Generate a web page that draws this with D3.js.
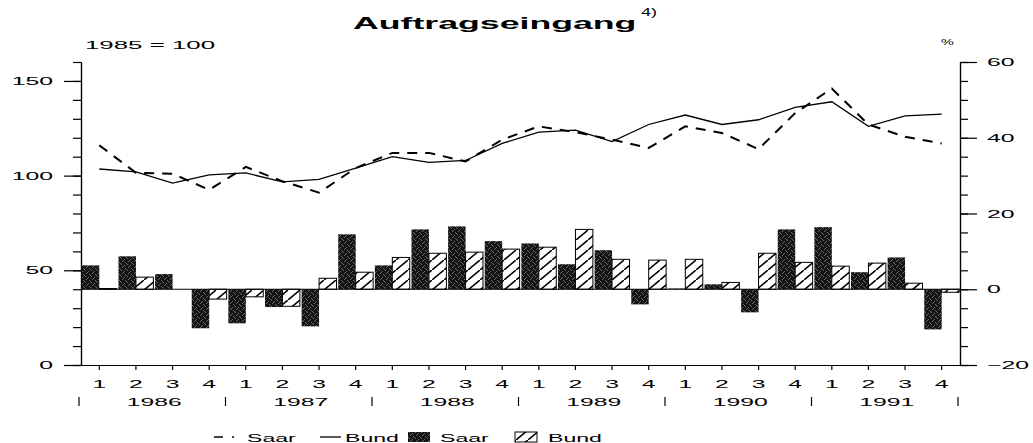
<!DOCTYPE html>
<meta charset="utf-8">
<script src="https://d3js.org/d3.v7.min.js"></script>
<style>
  body { margin: 0; background: #fff; }
  text { font-family: "Liberation Sans", Arial, sans-serif; fill: #000; }
</style>
<div id="chart"></div>
<script>

// years and quarters of the x axis
var years = ["1986", "1987", "1988", "1989", "1990", "1991"];
var quarterLabels = ["1", "2", "3", "4"];

// index lines, 1985 = 100 (left axis)
var saarIndex = [116, 101.5, 101, 92.5, 104.6, 97, 91, 104, 112, 112, 107.5, 119,
                 126, 123, 119, 114.6, 126, 122.5, 114, 133, 146, 127, 120.5, 117];
var bundIndex = [103.5, 102, 96, 100.4, 101.4, 96.7, 98, 104, 110, 107, 108, 117,
                 123, 124, 118, 127, 132, 127, 129.5, 136, 139, 126, 131.5, 132.5];

// change in % (right axis, bars)
var saarChange = [6.3, 8.7, 4, -10.3, -9, -4.7, -9.8, 14.5, 6.3, 15.8, 16.6, 12.7,
                  12.1, 6.6, 10.3, -4, 0.2, 1.3, -6.1, 15.8, 16.4, 4.5, 8.4, -10.6];
var bundChange = [0.2, 3.2, 0, -2.6, -2, -4.5, 2.9, 4.5, 8.4, 9.5, 9.8, 10.6,
                  11.1, 15.8, 7.9, 7.7, 7.9, 1.8, 9.5, 7.1, 6.1, 6.9, 1.6, -0.8];

var periods = [];
years.forEach(function(y) { quarterLabels.forEach(function(q) { periods.push(y + " " + q); }); });

var width = 1033, height = 443;
var SX = 2.25; // the original type is a very wide grotesque

var svg = d3.select("#chart").append("svg")
  .attr("width", width)
  .attr("height", height);

// patterns for the bars
var defs = svg.append("defs");
var grain = defs.append("pattern").attr("id", "grain")
  .attr("patternUnits", "userSpaceOnUse").attr("width", 6).attr("height", 6);
grain.append("rect").attr("width", 6).attr("height", 6).attr("fill", "#151515");
[[1, 0], [4, 1], [2, 3], [5, 4], [0, 5], [3, 2]].forEach(function(p) {
  grain.append("rect").attr("x", p[0]).attr("y", p[1]).attr("width", 1).attr("height", 1).attr("fill", "#6a6a6a");
});
var hatch = defs.append("pattern").attr("id", "hatch")
  .attr("patternUnits", "userSpaceOnUse").attr("width", 12).attr("height", 10);
hatch.append("rect").attr("width", 12).attr("height", 10).attr("fill", "#fff");
hatch.append("path").attr("d", "M0,10 L12,0")
  .attr("stroke", "#000").attr("stroke-width", 1.6).attr("stroke-linecap", "square");

// scales
var x = d3.scaleBand().domain(periods).range([81, 960]).padding(0);
var xs = d3.scaleBand().domain(["Saar", "Bund"]).range([0, x.bandwidth()]).paddingOuter(0.05);
var yL = d3.scaleLinear().domain([0, 160]).range([365, 62]);
var yR = d3.scaleLinear().domain([-20, 60]).range([365, 62]);

function widen(sel, sx) {
  sel.each(function() {
    var t = d3.select(this);
    var x0 = +t.attr("x") || 0;
    t.attr("x", x0 / sx).attr("transform", "scale(" + sx + ",1)");
  });
}

function label(px, py, str, size, anchor, sx, weight) {
  return svg.append("text")
    .attr("transform", "translate(" + px + "," + py + ") scale(" + sx + ",1)")
    .attr("text-anchor", anchor)
    .style("font-size", size + "px")
    .style("font-weight", weight || "normal")
    .text(str);
}

function styleAxis(g) {
  g.selectAll("path, line").attr("stroke", "#000").attr("stroke-width", 1.2);
  g.selectAll("text").style("font-size", "11px").attr("fill", "#000");
}

// left axis: minor + major ticks
svg.append("g").attr("transform", "translate(81,0)")
  .call(d3.axisLeft(yL).tickValues(d3.range(0, 161, 10)).tickSize(8).tickSizeOuter(0).tickFormat(""))
  .call(styleAxis);
var gL = svg.append("g").attr("transform", "translate(81,0)")
  .call(d3.axisLeft(yL).tickValues([0, 50, 100, 150]).tickSize(17).tickSizeOuter(0).tickPadding(11))
  .call(styleAxis);
widen(gL.selectAll("text"), SX);

// right axis
svg.append("g").attr("transform", "translate(960,0)")
  .call(d3.axisRight(yR).tickValues(d3.range(-20, 61, 5)).tickSize(8).tickSizeOuter(0).tickFormat(""))
  .call(styleAxis);
var gR = svg.append("g").attr("transform", "translate(960,0)")
  .call(d3.axisRight(yR).tickValues([-20, 0, 20, 40, 60]).tickSize(17).tickSizeOuter(0).tickPadding(10))
  .call(styleAxis);
widen(gR.selectAll("text"), SX);

// bottom axis with quarter numbers
var gB = svg.append("g").attr("transform", "translate(0,365)")
  .call(d3.axisBottom(x).tickSize(5).tickSizeOuter(0).tickPadding(10)
    .tickFormat(function(d) { return d.split(" ")[1]; }))
  .call(styleAxis);
widen(gB.selectAll("text"), SX);

// year labels and separators
years.forEach(function(y, i) {
  var x0 = x(y + " 1");
  label(x0 + 2 * x.bandwidth(), 406, y, 11, "middle", SX);
  svg.append("line").attr("x1", x0 - 2).attr("x2", x0 - 2).attr("y1", 397).attr("y2", 406)
    .attr("stroke", "#000").attr("stroke-width", 1.2);
});
svg.append("line").attr("x1", x.range()[1] - 2).attr("x2", x.range()[1] - 2).attr("y1", 397).attr("y2", 406)
  .attr("stroke", "#000").attr("stroke-width", 1.2);

// bars
var barData = periods.map(function(p, i) { return {p: p, saar: saarChange[i], bund: bundChange[i]}; });
svg.selectAll(".saar").data(barData).enter().append("rect")
  .attr("class", "saar")
  .attr("x", function(d) { return x(d.p) + xs("Saar"); })
  .attr("y", function(d) { return yR(Math.max(0, d.saar)); })
  .attr("width", xs.bandwidth())
  .attr("height", function(d) { return Math.abs(yR(d.saar) - yR(0)); })
  .attr("fill", "url(#grain)");
svg.selectAll(".bund").data(barData).enter().append("rect")
  .attr("class", "bund")
  .attr("x", function(d) { return x(d.p) + xs("Bund"); })
  .attr("y", function(d) { return yR(Math.max(0, d.bund)); })
  .attr("width", xs.bandwidth())
  .attr("height", function(d) { return Math.abs(yR(d.bund) - yR(0)); })
  .attr("fill", "url(#hatch)")
  .attr("stroke", "#000")
  .attr("stroke-width", 1);

// zero line of the bars
svg.append("line")
  .attr("x1", x.range()[0]).attr("x2", x.range()[1])
  .attr("y1", yR(0)).attr("y2", yR(0))
  .attr("stroke", "#000").attr("stroke-width", 1.2);

// index lines
var line = d3.line()
  .x(function(d) { return x(d.p) + x.bandwidth() / 2; })
  .y(function(d) { return yL(d.v); });
svg.append("path")
  .datum(periods.map(function(p, i) { return {p: p, v: bundIndex[i]}; }))
  .attr("d", line).attr("fill", "none").attr("stroke", "#000").attr("stroke-width", 1.3);
svg.append("path")
  .datum(periods.map(function(p, i) { return {p: p, v: saarIndex[i]}; }))
  .attr("d", line).attr("fill", "none").attr("stroke", "#000").attr("stroke-width", 2)
  .attr("stroke-dasharray", "10,8");

// titles
label(353, 29, "Auftragseingang", 17, "start", 2.1, "bold");
label(641, 16, "4)", 10, "start", 1.8);
label(85, 49, "1985 = 100", 11, "start", 2.35);
label(941, 45, "%", 9, "start", 1.6);

// legend
svg.append("line").attr("x1", 214).attr("x2", 236).attr("y1", 437).attr("y2", 437)
  .attr("stroke", "#000").attr("stroke-width", 1.6).attr("stroke-dasharray", "9,9,2,10");
label(247, 442, "Saar", 10.5, "start", 2.2);
svg.append("line").attr("x1", 320).attr("x2", 341).attr("y1", 437).attr("y2", 437)
  .attr("stroke", "#000").attr("stroke-width", 1.3);
label(345, 442, "Bund", 10.5, "start", 2.2);
svg.append("rect").attr("x", 408).attr("y", 432).attr("width", 22).attr("height", 10).attr("fill", "url(#grain)");
label(440, 442, "Saar", 10.5, "start", 2.2);
svg.append("rect").attr("x", 515).attr("y", 432).attr("width", 22).attr("height", 10)
  .attr("fill", "url(#hatch)").attr("stroke", "#000").attr("stroke-width", 1);
label(548, 442, "Bund", 10.5, "start", 2.2);

</script>
